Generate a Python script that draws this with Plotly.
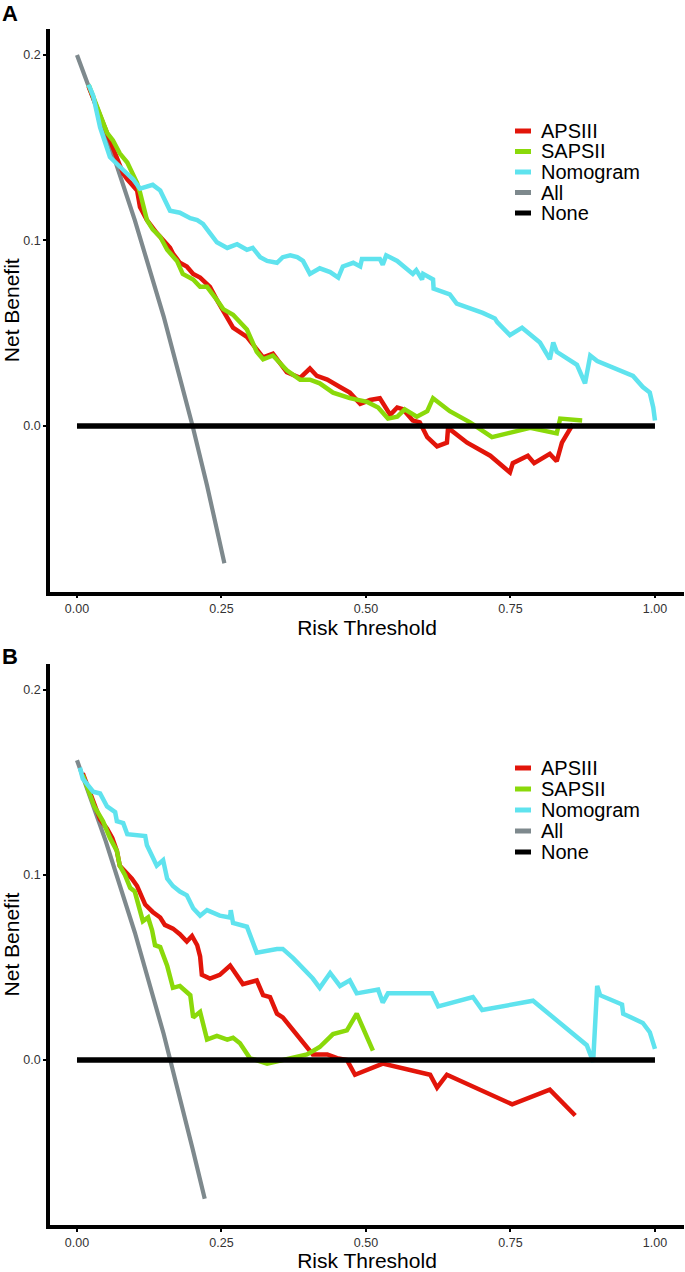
import plotly.graph_objects as go

# ---------------- data ----------------
X_TICKS = [0.0, 0.25, 0.5, 0.75, 1.0]
X_TICK_LABELS = ["0.00", "0.25", "0.50", "0.75", "1.00"]
Y_TICKS = [0.0, 0.1, 0.2]
Y_TICK_LABELS = ["0.0", "0.1", "0.2"]

SERIES_NAMES = ["APSIII", "SAPSII", "Nomogram", "All", "None"]
SERIES_COLORS = ["#E2150A", "#8AD90A", "#5FE3EE", "#7E898D", "#000000"]

# Panel A
A_APSIII_X = [0.02, 0.04, 0.06, 0.080, 0.087, 0.104, 0.109, 0.121, 0.138, 0.149, 0.161, 0.166,
              0.178, 0.190, 0.201, 0.213, 0.230, 0.242, 0.253, 0.265, 0.270, 0.294, 0.311, 0.322,
              0.339, 0.363, 0.386, 0.403, 0.415, 0.433, 0.455, 0.472, 0.490, 0.507, 0.524, 0.542,
              0.554, 0.564, 0.581, 0.593, 0.606, 0.623, 0.640, 0.642, 0.675, 0.715, 0.749, 0.754,
              0.780, 0.791, 0.818, 0.830, 0.839, 0.858]
A_APSIII_Y = [0.183, 0.167, 0.151, 0.136, 0.133, 0.127, 0.118, 0.111, 0.104, 0.100, 0.096, 0.093,
              0.088, 0.086, 0.082, 0.080, 0.075, 0.068, 0.062, 0.056, 0.053, 0.048, 0.041, 0.037,
              0.039, 0.029, 0.026, 0.031, 0.027, 0.025, 0.021, 0.018, 0.012, 0.014, 0.015, 0.006,
              0.010, 0.009, 0.003, 0.002, -0.006, -0.011, -0.009, -0.001, -0.009, -0.016, -0.025, -0.020,
              -0.016, -0.020, -0.015, -0.019, -0.009, 0.001]

A_SAPSII_X = [0.02, 0.03, 0.040, 0.052, 0.062, 0.074, 0.087, 0.097, 0.104, 0.109, 0.121, 0.131,
              0.144, 0.156, 0.173, 0.183, 0.201, 0.213, 0.225, 0.242, 0.253, 0.270, 0.294, 0.311,
              0.322, 0.339, 0.363, 0.386, 0.403, 0.420, 0.443, 0.472, 0.502, 0.521, 0.538, 0.554,
              0.567, 0.588, 0.606, 0.616, 0.633, 0.645, 0.680, 0.718, 0.784, 0.830, 0.836, 0.874]
A_SAPSII_Y = [0.184, 0.176, 0.169, 0.158, 0.154, 0.147, 0.142, 0.136, 0.131, 0.126, 0.111, 0.106,
              0.102, 0.095, 0.089, 0.082, 0.079, 0.075, 0.075, 0.068, 0.063, 0.060, 0.052, 0.040,
              0.036, 0.038, 0.030, 0.025, 0.025, 0.023, 0.018, 0.015, 0.013, 0.010, 0.004, 0.005,
              0.009, 0.005, 0.008, 0.015, 0.011, 0.008, 0.002, -0.006, -0.001, -0.004, 0.004, 0.003]

A_NOMOGRAM_X = [0.02, 0.028, 0.040, 0.048, 0.057, 0.080, 0.097, 0.109, 0.131, 0.144, 0.156, 0.161,
                0.178, 0.196, 0.208, 0.218, 0.230, 0.242, 0.260, 0.277, 0.294, 0.304, 0.317, 0.329,
                0.346, 0.356, 0.369, 0.381, 0.391, 0.403, 0.420, 0.438, 0.452, 0.460, 0.478, 0.490,
                0.493, 0.524, 0.529, 0.535, 0.554, 0.581, 0.587, 0.597, 0.599, 0.616, 0.617, 0.645,
                0.657, 0.702, 0.723, 0.727, 0.749, 0.770, 0.801, 0.818, 0.824, 0.830, 0.865, 0.879,
                0.888, 0.900, 0.962, 0.979, 0.991, 0.997, 1.000]
A_NOMOGRAM_Y = [0.184, 0.178, 0.161, 0.153, 0.145, 0.138, 0.133, 0.128, 0.130, 0.127, 0.120, 0.116,
                0.115, 0.112, 0.111, 0.109, 0.104, 0.099, 0.096, 0.098, 0.095, 0.096, 0.091, 0.089,
                0.088, 0.091, 0.092, 0.091, 0.089, 0.082, 0.085, 0.083, 0.080, 0.086, 0.088, 0.086,
                0.090, 0.090, 0.087, 0.092, 0.089, 0.082, 0.084, 0.079, 0.082, 0.079, 0.074, 0.071,
                0.066, 0.061, 0.058, 0.056, 0.049, 0.053, 0.045, 0.036, 0.045, 0.040, 0.033, 0.023,
                0.038, 0.035, 0.027, 0.021, 0.018, 0.010, 0.003]

A_ALL_X = [0.0, 0.05, 0.10, 0.15, 0.20, 0.225, 0.255]
A_ALL_Y = [0.200, 0.158, 0.111, 0.059, 0.000, -0.032, -0.074]

A_NONE_X = [0.0, 1.0]
A_NONE_Y = [0.0, 0.0]

# Panel B
B_APSIII_X = [0.01, 0.02, 0.03, 0.040, 0.052, 0.061, 0.069, 0.074, 0.083, 0.095, 0.104, 0.112,
              0.118, 0.131, 0.144, 0.152, 0.166, 0.178, 0.190, 0.199, 0.208, 0.213, 0.216, 0.230,
              0.247, 0.265, 0.277, 0.287, 0.311, 0.322, 0.334, 0.346, 0.356, 0.374, 0.398, 0.408,
              0.433, 0.450, 0.467, 0.481, 0.529, 0.611, 0.623, 0.640, 0.753, 0.818, 0.862]
B_APSIII_Y = [0.155, 0.147, 0.139, 0.130, 0.125, 0.120, 0.113, 0.105, 0.102, 0.098, 0.094, 0.089,
              0.084, 0.080, 0.077, 0.073, 0.071, 0.068, 0.064, 0.067, 0.062, 0.056, 0.046, 0.044,
              0.046, 0.051, 0.046, 0.041, 0.043, 0.035, 0.034, 0.025, 0.023, 0.016, 0.007, 0.003,
              0.003, 0.001, 0.000, -0.008, -0.002, -0.008, -0.015, -0.008, -0.024, -0.016, -0.030]

B_SAPSII_X = [0.01, 0.03, 0.045, 0.057, 0.069, 0.074, 0.083, 0.092, 0.100, 0.109, 0.114, 0.123,
              0.130, 0.135, 0.144, 0.156, 0.166, 0.178, 0.196, 0.201, 0.213, 0.225, 0.242, 0.260,
              0.270, 0.282, 0.299, 0.329, 0.356, 0.398, 0.420, 0.443, 0.467, 0.484, 0.512]
B_SAPSII_Y = [0.154, 0.137, 0.129, 0.120, 0.113, 0.105, 0.100, 0.093, 0.091, 0.080, 0.075, 0.077,
              0.070, 0.062, 0.061, 0.051, 0.039, 0.040, 0.035, 0.023, 0.026, 0.011, 0.013, 0.011,
              0.012, 0.009, 0.001, -0.002, 0.000, 0.003, 0.007, 0.014, 0.016, 0.025, 0.005]

B_NOMOGRAM_X = [0.005, 0.010, 0.028, 0.040, 0.052, 0.066, 0.069, 0.080, 0.087, 0.109, 0.118, 0.121,
                0.131, 0.138, 0.149, 0.156, 0.166, 0.178, 0.190, 0.201, 0.213, 0.225, 0.247, 0.265,
                0.266, 0.270, 0.294, 0.304, 0.311, 0.346, 0.356, 0.374, 0.386, 0.408, 0.420, 0.438,
                0.455, 0.472, 0.484, 0.521, 0.529, 0.538, 0.614, 0.625, 0.685, 0.701, 0.789, 0.882,
                0.893, 0.900, 0.905, 0.943, 0.945, 0.979, 0.991, 0.995, 1.000]
B_NOMOGRAM_Y = [0.158, 0.152, 0.145, 0.144, 0.137, 0.134, 0.129, 0.128, 0.122, 0.121, 0.121, 0.116,
                0.109, 0.105, 0.108, 0.098, 0.094, 0.091, 0.089, 0.082, 0.078, 0.081, 0.078, 0.077,
                0.081, 0.074, 0.072, 0.064, 0.058, 0.060, 0.060, 0.055, 0.051, 0.044, 0.039, 0.047,
                0.040, 0.043, 0.036, 0.038, 0.031, 0.036, 0.036, 0.029, 0.034, 0.027, 0.032, 0.008,
                -0.001, 0.040, 0.035, 0.030, 0.025, 0.020, 0.015, 0.010, 0.006]

B_ALL_X = [0.0, 0.05, 0.10, 0.15, 0.20, 0.221]
B_ALL_Y = [0.162, 0.118, 0.069, 0.014, -0.048, -0.075]

B_NONE_X = [0.0, 1.0]
B_NONE_Y = [0.0, 0.0]

PANELS = [
    ("A", {"APSIII": (A_APSIII_X, A_APSIII_Y), "SAPSII": (A_SAPSII_X, A_SAPSII_Y),
           "Nomogram": (A_NOMOGRAM_X, A_NOMOGRAM_Y), "All": (A_ALL_X, A_ALL_Y),
           "None": (A_NONE_X, A_NONE_Y)}),
    ("B", {"APSIII": (B_APSIII_X, B_APSIII_Y), "SAPSII": (B_SAPSII_X, B_SAPSII_Y),
           "Nomogram": (B_NOMOGRAM_X, B_NOMOGRAM_Y), "All": (B_ALL_X, B_ALL_Y),
           "None": (B_NONE_X, B_NONE_Y)}),
]

# ---------------- layout geometry ----------------
W, H = 685, 1272
ML, MR, MT, MB = 50, 1, 29, 47
PW, PH = W - ML - MR, H - MT - MB
FONT = "Liberation Sans, Arial, Helvetica, sans-serif"


def paper_x(px):
    return (px - ML) / PW


def paper_y(py):
    return (H - MB - py) / PH


DOMAINS = [[paper_y(591.5), 1.0], [0.0, paper_y(664)]]
LEGEND_ROWS = [(131, 20.5), (768, 21.0)]
LETTER_POS = [(10, 13), (10, 656)]
X_RANGE = [-0.0467, 1.0502]
Y_RANGE = [-0.0892, 0.2140]

DRAW_ORDER = ["All", "APSIII", "SAPSII", "Nomogram", "None"]
WIDTHS = {"APSIII": 4.5, "SAPSII": 4.5, "Nomogram": 4.5, "All": 4.2, "None": 5.5}
color_of = dict(zip(SERIES_NAMES, SERIES_COLORS))

fig = go.Figure()
shapes, annotations = [], []
for i, (letter, series) in enumerate(PANELS):
    xa = "x" if i == 0 else "x2"
    ya = "y" if i == 0 else "y2"
    for name in DRAW_ORDER:
        xs, ys = series[name]
        fig.add_trace(go.Scatter(
            x=xs, y=ys, mode="lines", name=name, legendgroup=name,
            showlegend=False, xaxis=xa, yaxis=ya,
            line=dict(color=color_of[name], width=WIDTHS[name], shape="linear"),
        ))
    # legend (drawn manually to match ggplot key size and spacing)
    y0, step = LEGEND_ROWS[i]
    for k, name in enumerate(SERIES_NAMES):
        yy = paper_y(y0 + k * step)
        shapes.append(dict(type="line", xref="paper", yref="paper",
                           x0=paper_x(515), x1=paper_x(531), y0=yy, y1=yy,
                           line=dict(color=color_of[name], width=5)))
        annotations.append(dict(text=name, xref="paper", yref="paper",
                                x=paper_x(539), y=yy, xanchor="left", yanchor="middle",
                                showarrow=False, font=dict(family=FONT, size=20, color="black")))
    lx, ly = LETTER_POS[i]
    annotations.append(dict(text="<b>%s</b>" % letter, xref="paper", yref="paper",
                            x=paper_x(lx), y=paper_y(ly), xanchor="center", yanchor="middle",
                            showarrow=False, font=dict(family=FONT, size=22, color="black")))

axis_common = dict(showline=True, linewidth=3.5, linecolor="black", ticks="outside",
                   ticklen=3, tickwidth=2, tickcolor="black", showgrid=False, zeroline=False,
                   tickfont=dict(family=FONT, size=12.5, color="#333333"))

layout = dict(
    width=W, height=H, margin=dict(l=ML, r=MR, t=MT, b=MB, pad=0),
    plot_bgcolor="white", paper_bgcolor="white", showlegend=False,
    font=dict(family=FONT), shapes=shapes, annotations=annotations,
)
for i in range(2):
    sfx = "" if i == 0 else "2"
    layout["xaxis" + sfx] = dict(axis_common, domain=[0, 1], anchor="y" + sfx, range=X_RANGE,
                                 tickvals=X_TICKS, ticktext=X_TICK_LABELS,
                                 title=dict(text="Risk Threshold", standoff=4,
                                            font=dict(family=FONT, size=21, color="black")))
    layout["yaxis" + sfx] = dict(axis_common, domain=DOMAINS[i], anchor="x" + sfx, range=Y_RANGE,
                                 tickvals=Y_TICKS, ticktext=Y_TICK_LABELS,
                                 title=dict(text="Net Benefit", standoff=6,
                                            font=dict(family=FONT, size=21, color="black")))
fig.update_layout(**layout)
fig.write_html(
    "out.html",
    config={"displayModeBar": False},
    post_script="document.body.style.margin='0px';document.body.style.overflow='hidden';",
)
